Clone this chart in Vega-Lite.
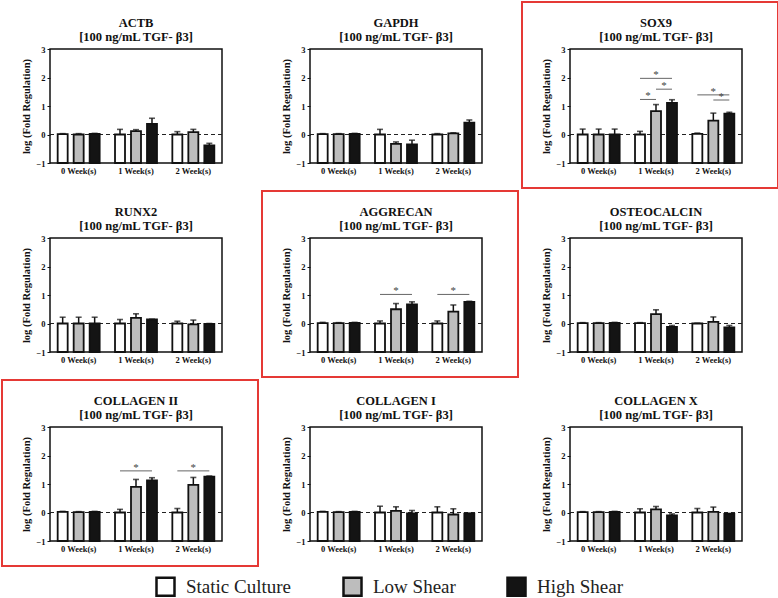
{
  "$schema": "https://vega.github.io/schema/vega-lite/v6.json",
  "background": "white",
  "padding": {"left": 0, "top": 0, "right": 0, "bottom": 0},
  "bounds": "flush",
  "data": {"values": [
    {"k":"b","gene":"ACTB","week":"0 Week(s)","group":"Static Culture","mean":0.01,"hi":0.03},
    {"k":"b","gene":"ACTB","week":"0 Week(s)","group":"Low Shear","mean":0.0,"hi":0.03},
    {"k":"b","gene":"ACTB","week":"0 Week(s)","group":"High Shear","mean":0.02,"hi":0.04},
    {"k":"b","gene":"ACTB","week":"1 Week(s)","group":"Static Culture","mean":0.0,"hi":0.18},
    {"k":"b","gene":"ACTB","week":"1 Week(s)","group":"Low Shear","mean":0.12,"hi":0.17},
    {"k":"b","gene":"ACTB","week":"1 Week(s)","group":"High Shear","mean":0.37,"hi":0.57},
    {"k":"b","gene":"ACTB","week":"2 Week(s)","group":"Static Culture","mean":0.0,"hi":0.1},
    {"k":"b","gene":"ACTB","week":"2 Week(s)","group":"Low Shear","mean":0.08,"hi":0.18},
    {"k":"b","gene":"ACTB","week":"2 Week(s)","group":"High Shear","mean":-0.38,"hi":-0.31},

    {"k":"b","gene":"GAPDH","week":"0 Week(s)","group":"Static Culture","mean":0.01,"hi":0.03},
    {"k":"b","gene":"GAPDH","week":"0 Week(s)","group":"Low Shear","mean":0.01,"hi":0.03},
    {"k":"b","gene":"GAPDH","week":"0 Week(s)","group":"High Shear","mean":0.02,"hi":0.04},
    {"k":"b","gene":"GAPDH","week":"1 Week(s)","group":"Static Culture","mean":0.0,"hi":0.18},
    {"k":"b","gene":"GAPDH","week":"1 Week(s)","group":"Low Shear","mean":-0.33,"hi":-0.26},
    {"k":"b","gene":"GAPDH","week":"1 Week(s)","group":"High Shear","mean":-0.35,"hi":-0.2},
    {"k":"b","gene":"GAPDH","week":"2 Week(s)","group":"Static Culture","mean":0.0,"hi":0.03},
    {"k":"b","gene":"GAPDH","week":"2 Week(s)","group":"Low Shear","mean":0.04,"hi":0.06},
    {"k":"b","gene":"GAPDH","week":"2 Week(s)","group":"High Shear","mean":0.42,"hi":0.51},

    {"k":"b","gene":"SOX9","week":"0 Week(s)","group":"Static Culture","mean":0.0,"hi":0.19},
    {"k":"b","gene":"SOX9","week":"0 Week(s)","group":"Low Shear","mean":0.0,"hi":0.19},
    {"k":"b","gene":"SOX9","week":"0 Week(s)","group":"High Shear","mean":0.0,"hi":0.19},
    {"k":"b","gene":"SOX9","week":"1 Week(s)","group":"Static Culture","mean":0.0,"hi":0.11},
    {"k":"b","gene":"SOX9","week":"1 Week(s)","group":"Low Shear","mean":0.82,"hi":1.05},
    {"k":"b","gene":"SOX9","week":"1 Week(s)","group":"High Shear","mean":1.11,"hi":1.22},
    {"k":"b","gene":"SOX9","week":"2 Week(s)","group":"Static Culture","mean":0.02,"hi":0.05},
    {"k":"b","gene":"SOX9","week":"2 Week(s)","group":"Low Shear","mean":0.49,"hi":0.75},
    {"k":"b","gene":"SOX9","week":"2 Week(s)","group":"High Shear","mean":0.73,"hi":0.78},

    {"k":"b","gene":"RUNX2","week":"0 Week(s)","group":"Static Culture","mean":0.0,"hi":0.22},
    {"k":"b","gene":"RUNX2","week":"0 Week(s)","group":"Low Shear","mean":0.0,"hi":0.22},
    {"k":"b","gene":"RUNX2","week":"0 Week(s)","group":"High Shear","mean":0.0,"hi":0.22},
    {"k":"b","gene":"RUNX2","week":"1 Week(s)","group":"Static Culture","mean":0.0,"hi":0.14},
    {"k":"b","gene":"RUNX2","week":"1 Week(s)","group":"Low Shear","mean":0.2,"hi":0.34},
    {"k":"b","gene":"RUNX2","week":"1 Week(s)","group":"High Shear","mean":0.14,"hi":0.15},
    {"k":"b","gene":"RUNX2","week":"2 Week(s)","group":"Static Culture","mean":0.0,"hi":0.08},
    {"k":"b","gene":"RUNX2","week":"2 Week(s)","group":"Low Shear","mean":-0.03,"hi":0.12},
    {"k":"b","gene":"RUNX2","week":"2 Week(s)","group":"High Shear","mean":-0.01,"hi":0.0},

    {"k":"b","gene":"AGGRECAN","week":"0 Week(s)","group":"Static Culture","mean":0.01,"hi":0.04},
    {"k":"b","gene":"AGGRECAN","week":"0 Week(s)","group":"Low Shear","mean":0.01,"hi":0.03},
    {"k":"b","gene":"AGGRECAN","week":"0 Week(s)","group":"High Shear","mean":0.02,"hi":0.04},
    {"k":"b","gene":"AGGRECAN","week":"1 Week(s)","group":"Static Culture","mean":0.0,"hi":0.09},
    {"k":"b","gene":"AGGRECAN","week":"1 Week(s)","group":"Low Shear","mean":0.5,"hi":0.7},
    {"k":"b","gene":"AGGRECAN","week":"1 Week(s)","group":"High Shear","mean":0.67,"hi":0.76},
    {"k":"b","gene":"AGGRECAN","week":"2 Week(s)","group":"Static Culture","mean":0.0,"hi":0.09},
    {"k":"b","gene":"AGGRECAN","week":"2 Week(s)","group":"Low Shear","mean":0.42,"hi":0.65},
    {"k":"b","gene":"AGGRECAN","week":"2 Week(s)","group":"High Shear","mean":0.76,"hi":0.78},

    {"k":"b","gene":"OSTEOCALCIN","week":"0 Week(s)","group":"Static Culture","mean":0.01,"hi":0.03},
    {"k":"b","gene":"OSTEOCALCIN","week":"0 Week(s)","group":"Low Shear","mean":0.01,"hi":0.03},
    {"k":"b","gene":"OSTEOCALCIN","week":"0 Week(s)","group":"High Shear","mean":0.02,"hi":0.04},
    {"k":"b","gene":"OSTEOCALCIN","week":"1 Week(s)","group":"Static Culture","mean":0.01,"hi":0.03},
    {"k":"b","gene":"OSTEOCALCIN","week":"1 Week(s)","group":"Low Shear","mean":0.33,"hi":0.48},
    {"k":"b","gene":"OSTEOCALCIN","week":"1 Week(s)","group":"High Shear","mean":-0.12,"hi":-0.07},
    {"k":"b","gene":"OSTEOCALCIN","week":"2 Week(s)","group":"Static Culture","mean":0.0,"hi":0.01},
    {"k":"b","gene":"OSTEOCALCIN","week":"2 Week(s)","group":"Low Shear","mean":0.06,"hi":0.23},
    {"k":"b","gene":"OSTEOCALCIN","week":"2 Week(s)","group":"High Shear","mean":-0.14,"hi":-0.07},

    {"k":"b","gene":"COLLAGEN II","week":"0 Week(s)","group":"Static Culture","mean":0.02,"hi":0.04},
    {"k":"b","gene":"COLLAGEN II","week":"0 Week(s)","group":"Low Shear","mean":0.01,"hi":0.03},
    {"k":"b","gene":"COLLAGEN II","week":"0 Week(s)","group":"High Shear","mean":0.02,"hi":0.04},
    {"k":"b","gene":"COLLAGEN II","week":"1 Week(s)","group":"Static Culture","mean":0.0,"hi":0.11},
    {"k":"b","gene":"COLLAGEN II","week":"1 Week(s)","group":"Low Shear","mean":0.9,"hi":1.16},
    {"k":"b","gene":"COLLAGEN II","week":"1 Week(s)","group":"High Shear","mean":1.13,"hi":1.22},
    {"k":"b","gene":"COLLAGEN II","week":"2 Week(s)","group":"Static Culture","mean":0.0,"hi":0.14},
    {"k":"b","gene":"COLLAGEN II","week":"2 Week(s)","group":"Low Shear","mean":0.97,"hi":1.23},
    {"k":"b","gene":"COLLAGEN II","week":"2 Week(s)","group":"High Shear","mean":1.26,"hi":1.28},

    {"k":"b","gene":"COLLAGEN I","week":"0 Week(s)","group":"Static Culture","mean":0.02,"hi":0.04},
    {"k":"b","gene":"COLLAGEN I","week":"0 Week(s)","group":"Low Shear","mean":0.01,"hi":0.03},
    {"k":"b","gene":"COLLAGEN I","week":"0 Week(s)","group":"High Shear","mean":0.02,"hi":0.04},
    {"k":"b","gene":"COLLAGEN I","week":"1 Week(s)","group":"Static Culture","mean":0.0,"hi":0.22},
    {"k":"b","gene":"COLLAGEN I","week":"1 Week(s)","group":"Low Shear","mean":0.06,"hi":0.2},
    {"k":"b","gene":"COLLAGEN I","week":"1 Week(s)","group":"High Shear","mean":-0.03,"hi":0.07},
    {"k":"b","gene":"COLLAGEN I","week":"2 Week(s)","group":"Static Culture","mean":0.0,"hi":0.2},
    {"k":"b","gene":"COLLAGEN I","week":"2 Week(s)","group":"Low Shear","mean":-0.07,"hi":0.13},
    {"k":"b","gene":"COLLAGEN I","week":"2 Week(s)","group":"High Shear","mean":-0.04,"hi":-0.02},

    {"k":"b","gene":"COLLAGEN X","week":"0 Week(s)","group":"Static Culture","mean":0.01,"hi":0.03},
    {"k":"b","gene":"COLLAGEN X","week":"0 Week(s)","group":"Low Shear","mean":0.01,"hi":0.03},
    {"k":"b","gene":"COLLAGEN X","week":"0 Week(s)","group":"High Shear","mean":0.02,"hi":0.04},
    {"k":"b","gene":"COLLAGEN X","week":"1 Week(s)","group":"Static Culture","mean":0.0,"hi":0.13},
    {"k":"b","gene":"COLLAGEN X","week":"1 Week(s)","group":"Low Shear","mean":0.11,"hi":0.21},
    {"k":"b","gene":"COLLAGEN X","week":"1 Week(s)","group":"High Shear","mean":-0.1,"hi":-0.05},
    {"k":"b","gene":"COLLAGEN X","week":"2 Week(s)","group":"Static Culture","mean":0.0,"hi":0.14},
    {"k":"b","gene":"COLLAGEN X","week":"2 Week(s)","group":"Low Shear","mean":0.02,"hi":0.19},
    {"k":"b","gene":"COLLAGEN X","week":"2 Week(s)","group":"High Shear","mean":-0.05,"hi":-0.03},

    {"k":"s","gene":"SOX9","week":"1 Week(s)","id":"1a","group":"Static Culture","level":1.97},
    {"k":"s","gene":"SOX9","week":"1 Week(s)","id":"1a","group":"High Shear","level":1.97},
    {"k":"s","gene":"SOX9","week":"1 Week(s)","id":"1b","group":"Low Shear","level":1.59},
    {"k":"s","gene":"SOX9","week":"1 Week(s)","id":"1b","group":"High Shear","level":1.59},
    {"k":"s","gene":"SOX9","week":"1 Week(s)","id":"1c","group":"Static Culture","level":1.23},
    {"k":"s","gene":"SOX9","week":"1 Week(s)","id":"1c","group":"Low Shear","level":1.23},
    {"k":"s","gene":"SOX9","week":"2 Week(s)","id":"2a","group":"Static Culture","level":1.39},
    {"k":"s","gene":"SOX9","week":"2 Week(s)","id":"2a","group":"High Shear","level":1.39},
    {"k":"s","gene":"SOX9","week":"2 Week(s)","id":"2b","group":"Low Shear","level":1.21},
    {"k":"s","gene":"SOX9","week":"2 Week(s)","id":"2b","group":"High Shear","level":1.21},
    {"k":"s","gene":"AGGRECAN","week":"1 Week(s)","id":"1a","group":"Static Culture","level":1.02},
    {"k":"s","gene":"AGGRECAN","week":"1 Week(s)","id":"1a","group":"High Shear","level":1.02},
    {"k":"s","gene":"AGGRECAN","week":"2 Week(s)","id":"2a","group":"Static Culture","level":1.02},
    {"k":"s","gene":"AGGRECAN","week":"2 Week(s)","id":"2a","group":"High Shear","level":1.02},
    {"k":"s","gene":"COLLAGEN II","week":"1 Week(s)","id":"1a","group":"Static Culture","level":1.46},
    {"k":"s","gene":"COLLAGEN II","week":"1 Week(s)","id":"1a","group":"High Shear","level":1.46},
    {"k":"s","gene":"COLLAGEN II","week":"2 Week(s)","id":"2a","group":"Static Culture","level":1.46},
    {"k":"s","gene":"COLLAGEN II","week":"2 Week(s)","id":"2a","group":"High Shear","level":1.46},

    {"k":"t","gene":"SOX9","week":"1 Week(s)","group":"Low Shear","level":1.97,"adj":false},
    {"k":"t","gene":"SOX9","week":"1 Week(s)","group":"Low Shear","level":1.59,"adj":true},
    {"k":"t","gene":"SOX9","week":"1 Week(s)","group":"Static Culture","level":1.23,"adj":true},
    {"k":"t","gene":"SOX9","week":"2 Week(s)","group":"Low Shear","level":1.39,"adj":false},
    {"k":"t","gene":"SOX9","week":"2 Week(s)","group":"Low Shear","level":1.21,"adj":true},
    {"k":"t","gene":"AGGRECAN","week":"1 Week(s)","group":"Low Shear","level":1.02,"adj":false},
    {"k":"t","gene":"AGGRECAN","week":"2 Week(s)","group":"Low Shear","level":1.02,"adj":false},
    {"k":"t","gene":"COLLAGEN II","week":"1 Week(s)","group":"Low Shear","level":1.46,"adj":false},
    {"k":"t","gene":"COLLAGEN II","week":"2 Week(s)","group":"Low Shear","level":1.46,"adj":false},

    {"k":"r","gene":"ACTB","hl":false},
    {"k":"r","gene":"GAPDH","hl":false},
    {"k":"r","gene":"SOX9","hl":true},
    {"k":"r","gene":"RUNX2","hl":false},
    {"k":"r","gene":"AGGRECAN","hl":true},
    {"k":"r","gene":"OSTEOCALCIN","hl":false},
    {"k":"r","gene":"COLLAGEN II","hl":true},
    {"k":"r","gene":"COLLAGEN I","hl":false},
    {"k":"r","gene":"COLLAGEN X","hl":false}
  ]},
  "facet": {
    "field": "gene",
    "type": "nominal",
    "sort": ["ACTB","GAPDH","SOX9","RUNX2","AGGRECAN","OSTEOCALCIN","COLLAGEN II","COLLAGEN I","COLLAGEN X"],
    "header": {
      "title": null,
      "labelExpr": "[datum.value, '[100 ng/mL TGF- β3]']",
      "labelFont": "Liberation Serif",
      "labelFontWeight": "bold",
      "labelFontSize": 12.5,
      "labelLineHeight": 14,
      "labelColor": "#111",
      "labelPadding": -42
    }
  },
  "columns": 3,
  "spacing": {"row": 75, "column": 88},
  "resolve": {"axis": {"x": "independent", "y": "independent"}},
  "spec": {
    "width": 172,
    "height": 114,
    "layer": [
      {
        "transform": [{"filter": "datum.k === 'r'"}],
        "mark": {"type": "rect", "fill": null, "strokeWidth": 2},
        "encoding": {
          "x": {"value": -48},
          "x2": {"value": 208},
          "y": {"value": -47},
          "y2": {"value": 139},
          "stroke": {"condition": {"test": "datum.hl", "value": "#e53935"}, "value": "transparent"}
        }
      },
      {
        "transform": [{"filter": "datum.k === 'b' && datum.week === '0 Week(s)' && datum.group === 'Static Culture'"}],
        "mark": {"type": "rule", "color": "#222", "strokeDash": [4, 3], "strokeWidth": 1.2},
        "encoding": {
          "y": {"datum": 0, "type": "quantitative", "scale": {"domain": [-1, 3], "nice": false}, "title": "log (Fold Regulation)"}
        }
      },
      {
        "transform": [{"filter": "datum.k === 'b'"}],
        "mark": {"type": "bar", "stroke": "#111", "strokeWidth": 1.8},
        "encoding": {
          "x": {"field": "week", "type": "nominal", "title": null, "scale": {"paddingInner": 0, "paddingOuter": 0}, "axis": {"labelAngle": 0}},
          "xOffset": {"field": "group", "type": "nominal", "scale": {"domain": ["Static Culture", "Low Shear", "High Shear"], "paddingInner": 0.375, "paddingOuter": 0.48}},
          "y": {"field": "mean", "type": "quantitative", "title": "log (Fold Regulation)"},
          "y2": {"datum": -1},
          "fill": {
            "field": "group", "type": "nominal",
            "scale": {"domain": ["Static Culture", "Low Shear", "High Shear"], "range": ["#ffffff", "#bdbdbd", "#141414"]},
            "legend": {
              "orient": "none", "legendX": 105, "legendY": 527, "direction": "horizontal", "title": null,
              "labelFont": "Liberation Serif", "labelFontSize": 19, "labelFontWeight": "normal", "labelColor": "#222",
              "labelOffset": 10, "columnPadding": 46
            }
          }
        }
      },
      {
        "transform": [{"filter": "datum.k === 'b'"}],
        "mark": {"type": "rule", "color": "#111", "strokeWidth": 1.5},
        "encoding": {
          "x": {"field": "week", "type": "nominal", "title": null},
          "xOffset": {"field": "group", "type": "nominal"},
          "y": {"field": "mean", "type": "quantitative", "title": "log (Fold Regulation)"},
          "y2": {"field": "hi"}
        }
      },
      {
        "transform": [{"filter": "datum.k === 'b'"}],
        "mark": {"type": "tick", "orient": "horizontal", "color": "#111", "size": 6, "thickness": 1.6},
        "encoding": {
          "x": {"field": "week", "type": "nominal", "title": null},
          "xOffset": {"field": "group", "type": "nominal"},
          "y": {"field": "hi", "type": "quantitative", "title": "log (Fold Regulation)"}
        }
      },
      {
        "transform": [{"filter": "datum.k === 's'"}],
        "mark": {"type": "line", "color": "#666", "strokeWidth": 1},
        "encoding": {
          "x": {"field": "week", "type": "nominal", "title": null},
          "xOffset": {"field": "group", "type": "nominal"},
          "y": {"field": "level", "type": "quantitative", "title": "log (Fold Regulation)"},
          "detail": {"field": "id"}
        }
      },
      {
        "transform": [{"filter": "datum.k === 't' && !datum.adj"}],
        "mark": {"type": "text", "fill": "#444", "fontSize": 11, "dy": -3},
        "encoding": {
          "x": {"field": "week", "type": "nominal", "title": null},
          "xOffset": {"field": "group", "type": "nominal"},
          "y": {"field": "level", "type": "quantitative", "title": "log (Fold Regulation)"},
          "text": {"value": "*"}
        }
      },
      {
        "transform": [{"filter": "datum.k === 't' && datum.adj"}],
        "mark": {"type": "text", "fill": "#444", "fontSize": 11, "dy": -3, "dx": 8},
        "encoding": {
          "x": {"field": "week", "type": "nominal", "title": null},
          "xOffset": {"field": "group", "type": "nominal"},
          "y": {"field": "level", "type": "quantitative", "title": "log (Fold Regulation)"},
          "text": {"value": "*"}
        }
      }
    ]
  },
  "config": {
    "font": "Liberation Serif",
    "view": {"stroke": "#111", "strokeWidth": 1.5},
    "axis": {
      "labelFont": "Liberation Serif",
      "labelFontWeight": "bold",
      "labelFontSize": 8.5,
      "labelColor": "#111",
      "titleFont": "Liberation Serif",
      "titleFontWeight": "bold",
      "titleFontSize": 10.5,
      "titleColor": "#111",
      "domain": false,
      "grid": false,
      "tickColor": "#111",
      "tickSize": 3,
      "labelPadding": 2
    },
    "axisX": {"ticks": false, "labelPadding": 3},
    "axisY": {"titlePadding": 4, "tickCount": 5, "labelOverlap": false},
    "legend": {
      "padding": 0,
      "symbolType": "square",
      "symbolSize": 324,
      "symbolStrokeWidth": 2.5,
      "symbolStrokeColor": "#111",
      "labelFont": "Liberation Serif",
      "labelFontSize": 19,
      "labelColor": "#222",
      "labelOffset": 10,
      "columnPadding": 46
    }
  }
}
